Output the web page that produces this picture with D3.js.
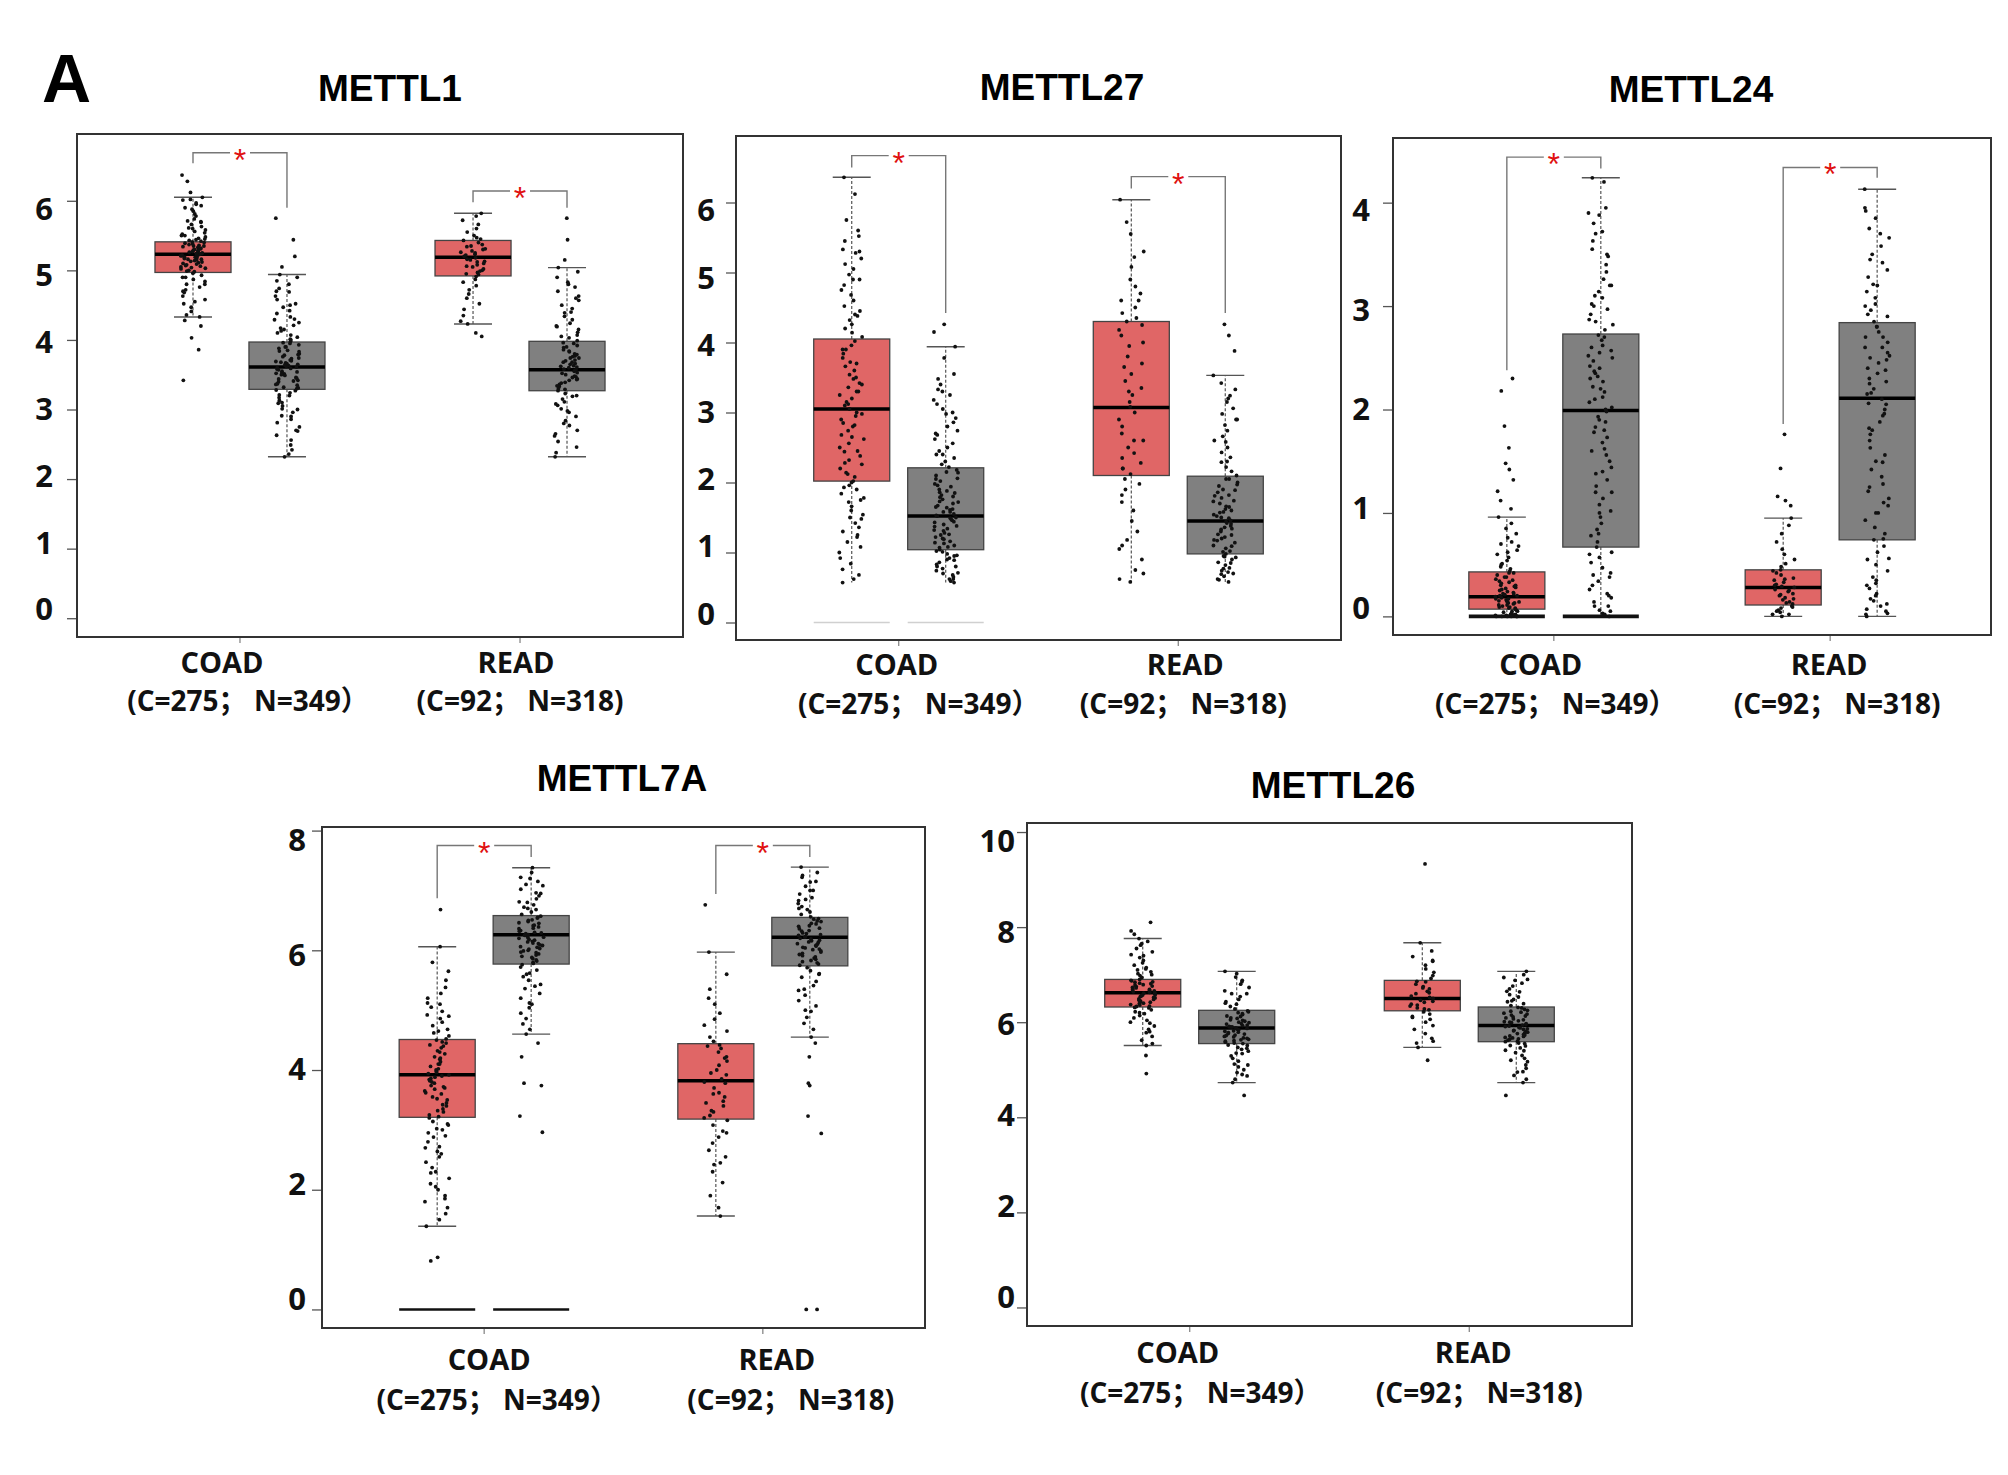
<!DOCTYPE html>
<html lang="en">
  <head>
    <meta charset="UTF-8" />
    <title>METTL expression boxplots</title>
    <script src="https://cdn.jsdelivr.net/npm/d3@7"></script>
    <style>
      body { margin: 0; background: #fff; }
      svg { display: block; }
    </style>
  </head>
  <body>
    <div id="main-div"></div>
    <script>
      const cohorts = ["COAD", "READ"];
      const cohortSizes = ["(C=275； N=349）", "(C=92； N=318)"];
      const tissues = ["Tumor", "Normal"];

      // box stats [lowWhisker, q1, median, q3, highWhisker]
      // order: COAD tumor, COAD normal, READ tumor, READ normal
      const mettl1Box = [[4.33, 4.97, 5.23, 5.41, 6.05], [2.32, 3.29, 3.61, 3.97, 4.94], [4.23, 4.92, 5.19, 5.43, 5.82], [2.32, 3.27, 3.57, 3.98, 5.04]];
      const mettl27Box = [[0.57, 2.02, 3.05, 4.05, 6.36], [0.57, 1.04, 1.52, 2.21, 3.94], [0.58, 2.1, 3.07, 4.3, 6.04], [0.57, 0.98, 1.45, 2.09, 3.53]];
      const mettl24Box = [[0, 0.07, 0.19, 0.43, 0.96], [0, 0.67, 1.99, 2.73, 4.24], [0, 0.11, 0.28, 0.45, 0.95], [0, 0.74, 2.11, 2.84, 4.13]];
      const mettl7aBox = [[1.39, 3.21, 3.92, 4.51, 6.06], [4.6, 5.77, 6.26, 6.58, 7.38], [1.56, 3.18, 3.82, 4.44, 5.97], [4.55, 5.74, 6.22, 6.55, 7.39]];
      const mettl26Box = [[5.51, 6.32, 6.62, 6.9, 7.76], [4.73, 5.55, 5.88, 6.25, 7.07], [5.47, 6.24, 6.5, 6.88, 7.67], [4.73, 5.59, 5.93, 6.32, 7.07]];

      // samples at zero drawn as a flat bar: 0 none, 1 faint, 2 black, 3 heavy black
      const mettl1Zero = [0, 0, 0, 0];
      const mettl27Zero = [1, 1, 0, 0];
      const mettl24Zero = [3, 3, 0, 0];
      const mettl7aZero = [2, 2, 0, 0];
      const mettl26Zero = [0, 0, 0, 0];

      // significance brackets per cohort [top, tumorEnd, normalEnd]
      const mettl1Sig = [[6.69, 6.54, 5.9], [6.14, 5.98, 5.9]];
      const mettl27Sig = [[6.67, 6.5, 4.42], [6.37, 6.2, 4.42]];
      const mettl24Sig = [[4.44, 2.38, 4.33], [4.34, 1.86, 4.24]];
      const mettl7aSig = [[7.75, 6.87, 7.56], [7.75, 6.94, 7.56]];
      const mettl26Sig = [];

      const mettl1Ticks = [0, 1, 2, 3, 4, 5, 6];
      const mettl27Ticks = [0, 1, 2, 3, 4, 5, 6];
      const mettl24Ticks = [0, 1, 2, 3, 4];
      const mettl7aTicks = [0, 2, 4, 6, 8];
      const mettl26Ticks = [0, 2, 4, 6, 8, 10];

      // sample points (log2 TPM)
      const mettl1Points = [
        [6.37, 6.28, 6.12, 6.05, 6.01, 5.97, 5.93, 5.88, 5.85, 5.81, 5.78, 5.74, 5.71, 5.69, 5.66, 5.63, 5.61, 5.58, 5.56, 5.54, 5.52, 5.5, 5.48, 5.46, 5.45, 5.43, 5.42, 5.4, 5.39, 5.37, 5.36, 5.35, 5.33, 5.32, 5.31, 5.29, 5.28, 5.27, 5.26, 5.25, 5.24, 5.23, 5.22, 5.21, 5.2, 5.19, 5.18, 5.16, 5.15, 5.14, 5.12, 5.11, 5.09, 5.08, 5.06, 5.04, 5.02, 5, 4.98, 4.96, 4.93, 4.9, 4.87, 4.84, 4.8, 4.76, 4.72, 4.68, 4.63, 4.58, 4.52, 4.47, 4.41, 4.36, 4.33, 4.28, 4.2, 4.03, 3.86, 3.42,
         5.44, 5.38, 5.34, 5.3, 5.27, 5.24, 5.21, 5.19, 5.17, 5.13, 5.1, 5.07, 5.03, 4.99, 5.35, 5.29, 5.22, 5.16, 5.41, 5.05, 5.5, 5.6, 5.7, 5.9, 4.9, 4.8, 4.7, 4.55, 5.95, 6.02],
        [5.75, 5.44, 5.2, 5.05, 4.94, 4.9, 4.85, 4.8, 4.74, 4.69, 4.63, 4.58, 4.52, 4.47, 4.42, 4.38, 4.33, 4.29, 4.25, 4.21, 4.17, 4.13, 4.1, 4.07, 4.04, 4.01, 3.98, 3.96, 3.93, 3.9, 3.88, 3.85, 3.83, 3.8, 3.78, 3.76, 3.73, 3.71, 3.69, 3.67, 3.65, 3.63, 3.61, 3.59, 3.57, 3.55, 3.53, 3.51, 3.49, 3.46, 3.44, 3.42, 3.4, 3.37, 3.35, 3.32, 3.3, 3.27, 3.24, 3.21, 3.17, 3.13, 3.09, 3.05, 3.01, 2.96, 2.91, 2.86, 2.81, 2.75, 2.69, 2.63, 2.56, 2.49, 2.42, 2.36, 2.32,
         3.95, 3.9, 3.84, 3.79, 3.74, 3.7, 3.66, 3.62, 3.58, 3.54, 3.5, 3.45, 3.41, 3.36, 3.31, 3.28, 3.6, 3.64, 3.68, 3.52, 4.0, 4.15, 4.3, 4.5, 4.7, 3.2, 3.1, 3.0, 2.9, 2.7],
        [5.82, 5.78, 5.72, 5.66, 5.6, 5.55, 5.5, 5.47, 5.43, 5.4, 5.37, 5.34, 5.31, 5.28, 5.25, 5.23, 5.2, 5.18, 5.16, 5.13, 5.1, 5.08, 5.05, 5.02, 5, 4.97, 4.94, 4.91, 4.87, 4.83, 4.78, 4.72, 4.66, 4.6, 4.52, 4.44, 4.35, 4.27, 4.23, 4.1, 4.05,
         5.3, 5.22, 5.15, 5.06, 4.99, 5.35, 5.26, 5.12, 4.95, 5.45],
        [5.75, 5.44, 5.15, 5.04, 4.98, 4.9, 4.83, 4.76, 4.7, 4.63, 4.57, 4.5, 4.45, 4.39, 4.34, 4.29, 4.24, 4.19, 4.15, 4.11, 4.07, 4.03, 3.99, 3.96, 3.92, 3.89, 3.86, 3.83, 3.8, 3.77, 3.74, 3.71, 3.68, 3.66, 3.63, 3.6, 3.58, 3.55, 3.53, 3.5, 3.47, 3.44, 3.42, 3.39, 3.36, 3.33, 3.3, 3.27, 3.23, 3.19, 3.15, 3.11, 3.06, 3.01, 2.96, 2.9, 2.84, 2.77, 2.7, 2.62, 2.54, 2.46, 2.38, 2.32,
         3.95, 3.9, 3.84, 3.79, 3.74, 3.7, 3.65, 3.61, 3.57, 3.52, 3.48, 3.43, 3.38, 3.34, 3.29, 3.62, 3.56, 3.68, 3.46, 4.05, 4.2, 4.4, 4.6, 4.8, 3.2, 3.08, 2.98, 2.8, 2.65, 3.76]
      ];
      const mettl27Points = [
        [6.36, 6.12, 5.75, 5.6, 5.52, 5.45, 5.33, 5.28, 5.2, 5.12, 5.05, 4.97, 4.9, 4.82, 4.75, 4.68, 4.6, 4.52, 4.45, 4.38, 4.32, 4.26, 4.2, 4.14, 4.08, 4.02, 3.96, 3.9, 3.84, 3.78, 3.72, 3.66, 3.6, 3.54, 3.48, 3.42, 3.36, 3.3, 3.25, 3.2, 3.15, 3.1, 3.05, 3.0, 2.95, 2.9, 2.85, 2.8, 2.74, 2.68, 2.62, 2.56, 2.5, 2.44, 2.38, 2.32, 2.26, 2.2, 2.14, 2.08, 2.02, 1.96, 1.9, 1.84, 1.78, 1.72, 1.66, 1.6, 1.54, 1.48, 1.42, 1.36, 1.3, 1.22, 1.15, 1.08, 1.0, 0.92, 0.84, 0.76, 0.68, 0.62, 0.57,
         3.9, 3.7, 3.5, 3.3, 3.12, 2.98, 2.82, 2.65, 2.45, 2.28, 2.12, 1.93, 1.75, 1.5, 1.25, 4.4, 4.9, 5.3, 2.0, 3.4],
        [4.26, 4.15, 3.94, 3.78, 3.55, 3.48, 3.4, 3.33, 3.25, 3.18, 3.12, 3.05, 2.98, 2.92, 2.86, 2.8, 2.74, 2.68, 2.62, 2.56, 2.5, 2.45, 2.4, 2.35, 2.3, 2.26, 2.22, 2.18, 2.14, 2.1, 2.06, 2.02, 1.98, 1.94, 1.9, 1.86, 1.82, 1.79, 1.76, 1.73, 1.7, 1.67, 1.64, 1.61, 1.58, 1.55, 1.52, 1.49, 1.46, 1.43, 1.4, 1.37, 1.34, 1.31, 1.28, 1.25, 1.22, 1.19, 1.16, 1.13, 1.1, 1.07, 1.04, 1.01, 0.98, 0.95, 0.92, 0.89, 0.86, 0.83, 0.8, 0.77, 0.74, 0.71, 0.68, 0.65, 0.62, 0.59, 0.57,
         2.15, 2.05, 1.96, 1.88, 1.8, 1.72, 1.65, 1.58, 1.5, 1.44, 1.38, 1.32, 1.26, 1.2, 1.14, 1.08, 1.02, 0.96, 0.9, 0.8, 0.7, 0.62, 1.62, 1.53, 1.47, 2.4, 2.7, 3.0, 3.3, 1.85],
        [6.04, 5.72, 5.55, 5.3, 5.22, 5.08, 4.9, 4.8, 4.7, 4.6, 4.5, 4.42, 4.35, 4.3, 4.25, 4.18, 4.1, 3.95, 3.8, 3.65, 3.55, 3.45, 3.35, 3.25, 3.15, 3.08, 3.0, 2.9, 2.8, 2.7, 2.6, 2.5, 2.42, 2.35, 2.28, 2.2, 2.12, 2.05, 1.98, 1.9, 1.82, 1.72, 1.6, 1.45, 1.3, 1.18, 1.05, 0.9, 0.75, 0.62, 0.58,
         3.7, 3.3, 2.6, 2.2, 4.0, 4.6, 1.1, 0.7],
        [4.26, 4.1, 3.88, 3.53, 3.42, 3.33, 3.24, 3.15, 3.06, 2.98, 2.9, 2.82, 2.74, 2.66, 2.58, 2.5, 2.43, 2.36, 2.29, 2.22, 2.16, 2.1, 2.05, 2.0, 1.95, 1.9, 1.86, 1.82, 1.78, 1.74, 1.7, 1.66, 1.62, 1.58, 1.54, 1.5, 1.46, 1.42, 1.38, 1.34, 1.3, 1.26, 1.22, 1.18, 1.14, 1.1, 1.06, 1.02, 0.98, 0.94, 0.9, 0.86, 0.82, 0.78, 0.74, 0.7, 0.66, 0.62, 0.58,
         2.05, 1.97, 1.89, 1.81, 1.73, 1.65, 1.57, 1.49, 1.41, 1.33, 1.25, 1.17, 1.09, 1.01, 0.93, 0.85, 0.77, 0.69, 0.61, 1.52, 1.44, 1.36, 2.3, 2.6, 2.9, 3.2, 1.6, 1.2, 0.95, 0.72]
      ];
      const mettl24Points = [
        [2.3, 2.18, 1.84, 1.63, 1.48, 1.42, 1.32, 1.21, 1.12, 1.04, 0.96, 0.9, 0.85, 0.8, 0.76, 0.72, 0.68, 0.64, 0.6, 0.57, 0.54, 0.51, 0.48, 0.46, 0.44, 0.42, 0.4, 0.38, 0.36, 0.34, 0.32, 0.3, 0.28, 0.27, 0.25, 0.24, 0.22, 0.21, 0.2, 0.19, 0.18, 0.17, 0.16, 0.15, 0.14, 0.13, 0.12, 0.11, 0.1, 0.09, 0.08, 0.07, 0.06, 0.05, 0.04, 0.03, 0.03, 0.02, 0.02, 0.01, 0.01, 0, 0, 0, 0,
         0.42, 0.38, 0.33, 0.29, 0.26, 0.23, 0.2, 0.17, 0.14, 0.11, 0.08, 0.05, 0.02, 0.01, 0, 0, 0.3, 0.22, 0.15, 0.35, 0.5, 0.62, 0.7, 0.13, 0.09],
        [4.24, 4.2, 3.95, 3.88, 3.8, 3.72, 3.63, 3.55, 3.48, 3.4, 3.33, 3.26, 3.2, 3.14, 3.08, 3.02, 2.97, 2.92, 2.87, 2.82, 2.77, 2.72, 2.67, 2.62, 2.57, 2.52, 2.47, 2.42, 2.37, 2.32, 2.27, 2.22, 2.17, 2.12, 2.07, 2.02, 1.98, 1.93, 1.88, 1.83, 1.78, 1.73, 1.68, 1.62, 1.56, 1.5, 1.44, 1.38, 1.32, 1.26, 1.2, 1.14, 1.08, 1.02, 0.96, 0.9, 0.84, 0.78, 0.72, 0.67, 0.62, 0.57, 0.52, 0.47, 0.42, 0.38, 0.34, 0.3, 0.26, 0.22, 0.18, 0.14, 0.1, 0.06, 0.03, 0,
         2.7, 2.6, 2.5, 2.4, 2.3, 2.2, 2.1, 2.0, 1.9, 1.8, 3.0, 3.2, 3.5, 3.7, 1.6, 1.4, 1.2, 1.0, 0.8, 0.6, 0.4, 0.2, 0.1, 0.05, 2.85, 3.1, 3.9, 2.55, 2.35, 0.02],
        [1.76, 1.43, 1.16, 1.12, 1.07, 0.95, 0.88, 0.8, 0.72, 0.65, 0.6, 0.55, 0.51, 0.48, 0.45, 0.42, 0.4, 0.37, 0.35, 0.33, 0.31, 0.29, 0.28, 0.26, 0.24, 0.22, 0.2, 0.18, 0.16, 0.14, 0.12, 0.1, 0.08, 0.06, 0.04, 0.02, 0,
         0.3, 0.25, 0.21, 0.17, 0.13, 0.09, 0.05, 0.02, 0.36, 0.44],
        [4.13, 3.92, 3.85, 3.75, 3.66, 3.58, 3.5, 3.42, 3.35, 3.28, 3.21, 3.14, 3.08, 3.02, 2.96, 2.9, 2.85, 2.8, 2.75, 2.7, 2.65, 2.6, 2.55, 2.5, 2.45, 2.4, 2.35, 2.3, 2.25, 2.2, 2.15, 2.1, 2.05, 2.0, 1.94, 1.88, 1.82, 1.76, 1.7, 1.63, 1.56, 1.49, 1.42, 1.35, 1.28, 1.21, 1.14, 1.07, 1.0, 0.93, 0.86, 0.8, 0.74, 0.68, 0.62, 0.56, 0.5, 0.44, 0.38, 0.32, 0.27, 0.22, 0.17, 0.12, 0.07, 0.03, 0,
         2.8, 2.7, 2.6, 2.48, 2.38, 2.27, 2.16, 2.06, 1.96, 3.0, 3.2, 3.45, 3.7, 3.95, 1.5, 1.25, 1.0, 0.75, 0.55, 0.35, 0.2, 0.1, 0.05, 0.02, 2.92, 2.52, 1.8, 1.1, 0.3, 0.15]
      ];
      const mettl7aPoints = [
        [6.68, 6.06, 5.8, 5.65, 5.5, 5.38, 5.28, 5.2, 5.12, 5.05, 4.98, 4.92, 4.86, 4.8, 4.74, 4.68, 4.62, 4.57, 4.52, 4.47, 4.42, 4.37, 4.32, 4.27, 4.22, 4.18, 4.14, 4.1, 4.06, 4.02, 3.98, 3.94, 3.9, 3.86, 3.82, 3.78, 3.74, 3.7, 3.65, 3.6, 3.55, 3.5, 3.45, 3.4, 3.35, 3.3, 3.25, 3.2, 3.14, 3.08, 3.02, 2.95, 2.88, 2.8, 2.72, 2.64, 2.55, 2.46, 2.37, 2.28, 2.19, 2.1, 2.0, 1.9, 1.8, 1.7, 1.6, 1.5, 1.39, 0.87, 0.81,
         4.5, 4.4, 4.3, 4.2, 4.1, 4.0, 3.96, 3.92, 3.88, 3.84, 3.8, 3.72, 3.62, 3.52, 3.42, 3.32, 3.22, 3.1, 2.9, 2.6, 2.3, 2.05, 1.85, 4.9, 5.1, 4.65, 3.0, 2.7, 4.45, 3.68],
        [7.38, 7.3, 7.22, 7.15, 7.08, 7.02, 6.96, 6.91, 6.86, 6.81, 6.76, 6.72, 6.68, 6.64, 6.6, 6.57, 6.54, 6.51, 6.48, 6.45, 6.42, 6.39, 6.36, 6.33, 6.3, 6.28, 6.26, 6.24, 6.22, 6.2, 6.17, 6.14, 6.11, 6.08, 6.05, 6.02, 5.99, 5.96, 5.92, 5.88, 5.84, 5.8, 5.76, 5.72, 5.67, 5.62, 5.56, 5.5, 5.43, 5.36, 5.28, 5.2, 5.12, 5.04, 4.95, 4.86, 4.77, 4.68, 4.6, 4.45, 4.22, 3.78, 3.74, 3.23, 2.96,
         6.55, 6.5, 6.46, 6.41, 6.37, 6.32, 6.29, 6.25, 6.21, 6.18, 6.15, 6.12, 6.09, 6.06, 6.03, 6.0, 5.97, 5.94, 5.9, 5.86, 5.82, 5.78, 6.7, 6.8, 6.95, 7.1, 7.2, 5.6, 5.4, 5.1],
        [6.76, 5.97, 5.6, 5.35, 5.2, 5.1, 4.95, 4.85, 4.75, 4.65, 4.55, 4.48, 4.42, 4.36, 4.3, 4.22, 4.15, 4.08, 4.0, 3.92, 3.85, 3.78, 3.7, 3.62, 3.55, 3.48, 3.4, 3.32, 3.24, 3.16, 3.08, 2.98, 2.88, 2.78, 2.66, 2.55, 2.42, 2.3, 2.12, 1.9, 1.7, 1.56,
         4.4, 4.2, 3.95, 3.8, 3.6, 3.45, 3.3, 3.2, 2.95, 2.45],
        [7.39, 7.3, 7.22, 7.14, 7.07, 7.0, 6.94, 6.88, 6.83, 6.78, 6.73, 6.68, 6.64, 6.6, 6.56, 6.52, 6.48, 6.44, 6.4, 6.36, 6.32, 6.29, 6.26, 6.23, 6.2, 6.17, 6.14, 6.11, 6.08, 6.05, 6.02, 5.99, 5.95, 5.91, 5.87, 5.83, 5.79, 5.75, 5.71, 5.66, 5.61, 5.55, 5.48, 5.41, 5.33, 5.25, 5.16, 5.07, 4.98, 4.88, 4.78, 4.68, 4.55, 4.45, 4.22, 3.78, 3.74, 3.23, 2.94, 0, 0,
         6.53, 6.49, 6.45, 6.41, 6.37, 6.33, 6.28, 6.25, 6.22, 6.19, 6.16, 6.13, 6.1, 6.07, 6.04, 6.01, 5.97, 5.93, 5.89, 5.85, 5.81, 5.77, 6.7, 6.85, 7.0, 7.15, 7.25, 5.6, 5.35, 5.0]
      ];
      const mettl26Points = [
        [8.1, 7.92, 7.85, 7.76, 7.7, 7.62, 7.55, 7.48, 7.42, 7.36, 7.3, 7.25, 7.2, 7.15, 7.1, 7.06, 7.02, 6.98, 6.94, 6.9, 6.87, 6.84, 6.81, 6.78, 6.75, 6.72, 6.69, 6.66, 6.63, 6.6, 6.57, 6.54, 6.51, 6.48, 6.45, 6.42, 6.39, 6.36, 6.33, 6.3, 6.26, 6.22, 6.18, 6.14, 6.09, 6.04, 5.98, 5.92, 5.85, 5.78, 5.7, 5.62, 5.55, 5.51, 5.3, 4.92,
         6.88, 6.85, 6.82, 6.79, 6.76, 6.73, 6.7, 6.67, 6.64, 6.61, 6.58, 6.55, 6.52, 6.49, 6.46, 6.43, 6.4, 6.37, 6.34, 6.31, 6.62, 6.68, 6.56, 7.0, 7.12, 7.4, 6.2, 6.0, 5.8, 7.65],
        [7.07, 7.02, 6.95, 6.88, 6.8, 6.73, 6.66, 6.6, 6.54, 6.48, 6.43, 6.38, 6.33, 6.28, 6.24, 6.2, 6.16, 6.12, 6.08, 6.04, 6.0, 5.97, 5.94, 5.91, 5.88, 5.85, 5.82, 5.79, 5.76, 5.73, 5.7, 5.67, 5.64, 5.61, 5.58, 5.55, 5.51, 5.47, 5.43, 5.39, 5.34, 5.29, 5.24, 5.18, 5.12, 5.06, 5.0, 4.94, 4.87, 4.8, 4.73, 4.46,
         6.22, 6.18, 6.13, 6.09, 6.05, 6.02, 5.99, 5.96, 5.93, 5.9, 5.87, 5.84, 5.81, 5.78, 5.75, 5.72, 5.69, 5.66, 5.63, 5.6, 5.56, 5.52, 5.45, 5.35, 6.4, 6.6, 6.85, 5.1, 4.9, 5.9],
        [9.33, 7.67, 7.5, 7.38, 7.28, 7.2, 7.12, 7.05, 6.98, 6.92, 6.86, 6.8, 6.75, 6.7, 6.65, 6.6, 6.55, 6.5, 6.46, 6.42, 6.38, 6.34, 6.3, 6.26, 6.22, 6.17, 6.12, 6.06, 6.0, 5.93, 5.85, 5.76, 5.66, 5.56, 5.47, 5.2,
         6.85, 6.72, 6.62, 6.52, 6.44, 6.36, 6.28, 7.3, 6.1, 5.6],
        [7.07, 7.0, 6.94, 6.88, 6.82, 6.76, 6.7, 6.64, 6.58, 6.53, 6.48, 6.43, 6.39, 6.35, 6.31, 6.27, 6.23, 6.19, 6.15, 6.11, 6.07, 6.03, 5.99, 5.95, 5.92, 5.89, 5.86, 5.83, 5.8, 5.77, 5.74, 5.71, 5.68, 5.65, 5.62, 5.59, 5.55, 5.51, 5.46, 5.41, 5.36, 5.3, 5.24, 5.17, 5.1, 5.03, 4.96, 4.88, 4.8, 4.73, 4.46,
         6.3, 6.25, 6.21, 6.17, 6.13, 6.09, 6.05, 6.01, 5.97, 5.94, 5.91, 5.88, 5.85, 5.82, 5.79, 5.76, 5.73, 5.7, 5.67, 5.64, 5.6, 5.56, 5.5, 5.4, 6.45, 6.65, 6.9, 5.2, 4.95, 6.0]
      ];

      // panel placement on the page (labX: per-cohort nudges of the two label lines)
      const panels = [
        { gene: "METTL1", x: 77, y: 134, w: 606, h: 503, domain: [-0.27, 6.96], ticks: mettl1Ticks, box: mettl1Box, pts: mettl1Points, zero: mettl1Zero, sig: mettl1Sig, lowCap: true, pad: 14, titleX: 390, titleY: 101, lab: [36, 74], labX: [[-18, 8], [-4, 0]] },
        { gene: "METTL27", x: 736, y: 136, w: 605, h: 504, domain: [-0.25, 6.95], ticks: mettl27Ticks, box: mettl27Box, pts: mettl27Points, zero: mettl27Zero, sig: mettl27Sig, lowCap: false, pad: 11, titleX: 1062, titleY: 100, lab: [35, 74], labX: [[-2, 20], [7, 5]] },
        { gene: "METTL24", x: 1393, y: 138, w: 598, h: 497, domain: [-0.18, 4.625], ticks: mettl24Ticks, box: mettl24Box, pts: mettl24Points, zero: mettl24Zero, sig: mettl24Sig, lowCap: true, pad: 13, titleX: 1691, titleY: 102, lab: [40, 79], labX: [[-13, 2], [-1, 7]] },
        { gene: "METTL7A", x: 322, y: 827, w: 603, h: 501, domain: [-0.31, 8.06], ticks: mettl7aTicks, box: mettl7aBox, pts: mettl7aPoints, zero: mettl7aZero, sig: mettl7aSig, lowCap: true, pad: 6, titleX: 622, titleY: 791, lab: [42, 82], labX: [[5, 13], [14, 28]] },
        { gene: "METTL26", x: 1027, y: 823, w: 605, h: 503, domain: [-0.39, 10.19], ticks: mettl26Ticks, box: mettl26Box, pts: mettl26Points, zero: mettl26Zero, sig: mettl26Sig, lowCap: true, pad: 2, titleX: 1333, titleY: 798, lab: [37, 77], labX: [[-12, 11], [4, 10]] }
      ];

      const colors = { Tumor: "#e06666", Normal: "#808080" };
      const zeroStyle = [null, ["#d0d0d0", 1.5], ["#111", 2.6], ["#111", 3.6]];

      let svg = d3
        .select("#main-div")
        .append("svg")
        .attr("width", 2008)
        .attr("height", 1475)
        .style("background-color", "#fff");

      svg
        .append("text")
        .attr("x", 42)
        .attr("y", 102)
        .attr("font-family", "Liberation Sans, Arial, sans-serif")
        .attr("font-weight", "bold")
        .attr("font-size", 68)
        .text("A");

      // horizontal spread of the dots across the box (integer hash of the index)
      const jitter = (i) => {
        let h = Math.imul(i + 1, 374761393) ^ 668265263;
        h = Math.imul(h ^ (h >>> 13), 1274126177);
        h ^= h >>> 16;
        return ((h >>> 0) / 4294967296 - 0.5) * 25;
      };

      panels.forEach((p, pi) => {
        let g = svg.append("g").attr("transform", "translate(" + p.x + "," + p.y + ")");
        let y = d3.scaleLinear().domain(p.domain).range([p.h, 0]);
        let x = d3.scalePoint().domain(cohorts).range([0, p.w]).padding(0.582);
        let sub = d3.scaleBand().domain(tissues).range([-85, 85]).paddingInner(0.191);
        let bw = sub.bandwidth();
        let tickMid = (y(p.ticks[0]) + y(p.ticks[p.ticks.length - 1])) / 2;

        // title
        svg
          .append("text")
          .attr("x", p.titleX)
          .attr("y", p.titleY)
          .attr("text-anchor", "middle")
          .attr("font-family", "Liberation Sans, Arial, sans-serif")
          .attr("font-weight", "bold")
          .attr("font-size", 37)
          .text(p.gene);

        // y axis
        g.append("g")
          .call(d3.axisLeft(y).tickValues(p.ticks).tickSize(10).tickPadding(p.pad).tickFormat(d3.format("d")))
          .call((a) => a.select(".domain").remove())
          .call((a) => a.selectAll("line").attr("stroke", "#555").attr("stroke-width", 1.3))
          .call((a) =>
            a
              .selectAll("text")
              .attr("y", (d) => -(y(d) - tickMid) * 0.04)
              .attr("fill", "#111")
              .attr("font-family", "Open Sans, sans-serif")
              .attr("font-weight", "bold")
              .attr("font-size", 31)
          );

        cohorts.forEach((c, ci) => {
          let cx = x(c);
          // x tick
          g.append("line")
            .attr("x1", cx).attr("x2", cx)
            .attr("y1", p.h).attr("y2", p.h + 6)
            .attr("stroke", "#888").attr("stroke-width", 1.3);

          g.append("text")
            .attr("x", cx + p.labX[ci][0])
            .attr("y", p.h + p.lab[0])
            .attr("text-anchor", "middle")
            .attr("font-family", "Open Sans, sans-serif")
            .attr("font-weight", "bold")
            .attr("font-size", 29)
            .attr("fill", "#111")
            .text(c);
          g.append("text")
            .attr("x", cx + p.labX[ci][1])
            .attr("y", p.h + p.lab[1])
            .attr("text-anchor", "middle")
            .attr("font-family", "Open Sans, 'Noto Sans CJK SC', sans-serif")
            .attr("font-weight", "bold")
            .attr("font-size", 28)
            .attr("fill", "#111")
            .attr("xml:space", "preserve")
            .text(cohortSizes[ci]);

          tissues.forEach((t, ti) => {
            let k = ci * 2 + ti;
            let s = p.box[k];
            let bx = cx + sub(t) + bw / 2;
            let bg = g.append("g");

            // whiskers
            bg.append("line")
              .attr("x1", bx).attr("x2", bx)
              .attr("y1", y(s[3])).attr("y2", y(s[4]))
              .attr("stroke", "#555").attr("stroke-width", 1.2).attr("stroke-dasharray", "3,2");
            bg.append("line")
              .attr("x1", bx).attr("x2", bx)
              .attr("y1", y(s[1])).attr("y2", y(s[0]))
              .attr("stroke", "#555").attr("stroke-width", 1.2).attr("stroke-dasharray", "3,2");
            bg.append("line")
              .attr("x1", bx - bw / 4).attr("x2", bx + bw / 4)
              .attr("y1", y(s[4])).attr("y2", y(s[4]))
              .attr("stroke", "#555").attr("stroke-width", 1.4);
            if (p.lowCap) {
              bg.append("line")
                .attr("x1", bx - bw / 4).attr("x2", bx + bw / 4)
                .attr("y1", y(s[0])).attr("y2", y(s[0]))
                .attr("stroke", "#555").attr("stroke-width", 1.4);
            }

            // box
            bg.append("rect")
              .attr("x", bx - bw / 2)
              .attr("y", y(s[3]))
              .attr("width", bw)
              .attr("height", y(s[1]) - y(s[3]))
              .attr("fill", colors[t])
              .attr("stroke", "#444")
              .attr("stroke-width", 1.3);
            bg.append("line")
              .attr("x1", bx - bw / 2).attr("x2", bx + bw / 2)
              .attr("y1", y(s[2])).attr("y2", y(s[2]))
              .attr("stroke", "#000").attr("stroke-width", 3.5);

            // bar of zero values
            let z = zeroStyle[p.zero[k]];
            if (z) {
              bg.append("line")
                .attr("x1", bx - bw / 2).attr("x2", bx + bw / 2)
                .attr("y1", y(0)).attr("y2", y(0))
                .attr("stroke", z[0]).attr("stroke-width", z[1]);
            }

            // dots
            bg.selectAll("circle")
              .data(p.pts[k])
              .join("circle")
              .attr("cx", (d, i) => bx + jitter(i + k * 131 + pi * 977))
              .attr("cy", (d) => y(d))
              .attr("r", 1.9)
              .attr("fill", "#111");
          });

          // significance bracket
          let b = p.sig[ci];
          if (b) {
            let xl = cx + sub("Tumor") + bw / 2;
            let xr = cx + sub("Normal") + bw / 2;
            let xm = (xl + xr) / 2;
            let yt = y(b[0]);
            let path = d3.path();
            path.moveTo(xl, y(b[1]));
            path.lineTo(xl, yt);
            path.lineTo(xm - 10, yt);
            path.moveTo(xm + 10, yt);
            path.lineTo(xr, yt);
            path.lineTo(xr, y(b[2]));
            g.append("path")
              .attr("d", path.toString())
              .attr("fill", "none")
              .attr("stroke", "#777")
              .attr("stroke-width", 1.4);
            g.append("text")
              .attr("x", xm)
              .attr("y", yt + 18)
              .attr("text-anchor", "middle")
              .attr("font-family", "Liberation Sans, Arial, sans-serif")
              .attr("font-size", 32)
              .attr("fill", "#e01010")
              .text("*");
          }
        });

        // frame
        g.append("rect")
          .attr("width", p.w)
          .attr("height", p.h)
          .attr("fill", "none")
          .attr("stroke", "#333")
          .attr("stroke-width", 2);
      });
    </script>
  </body>
</html>
